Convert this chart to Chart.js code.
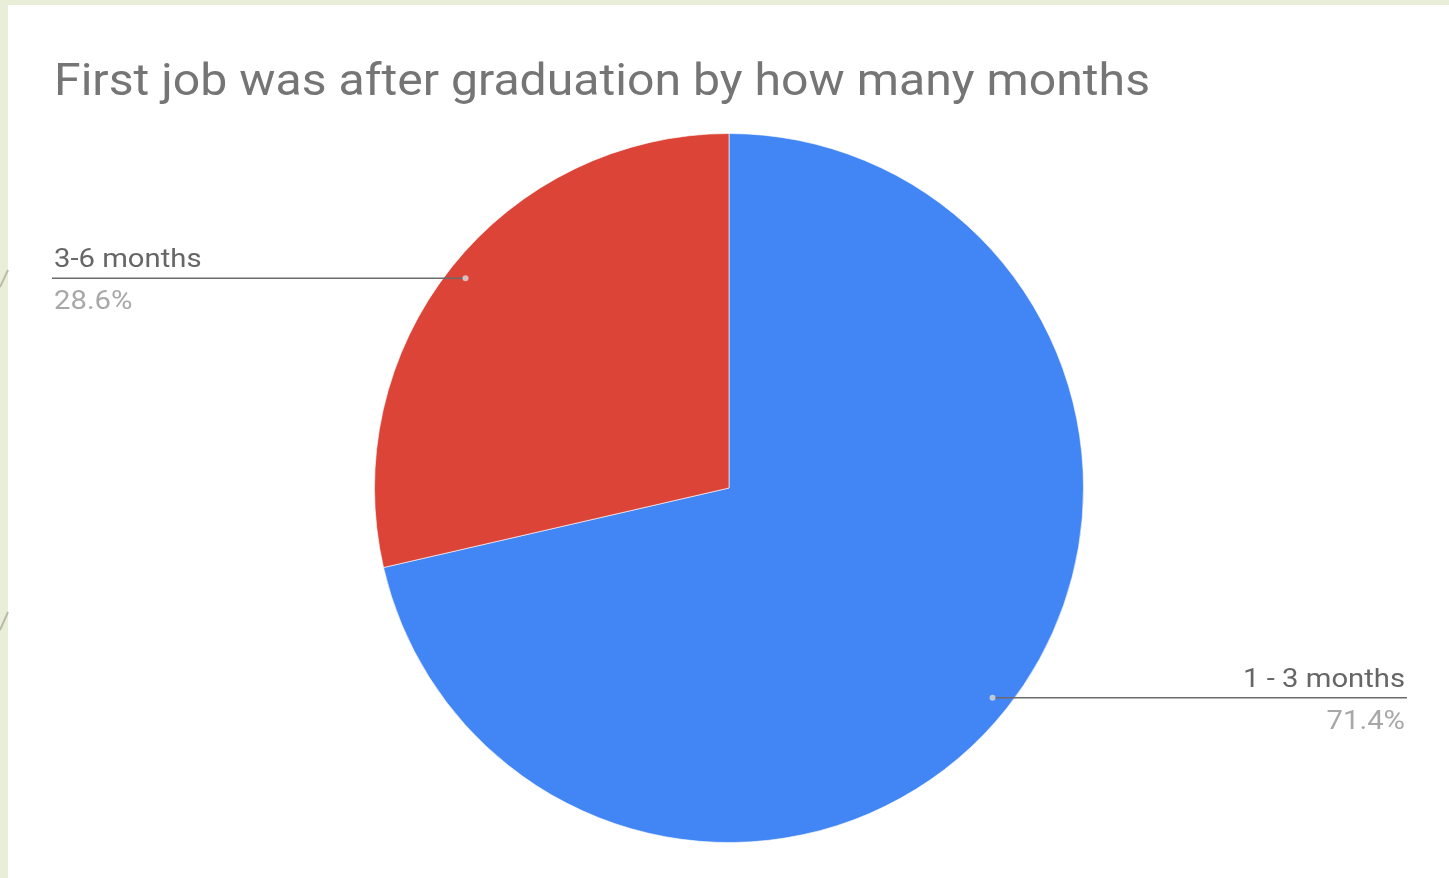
<!DOCTYPE html>
<html>
<head>
<meta charset="utf-8">
<script src="https://cdn.jsdelivr.net/npm/chart.js@4.4.0/dist/chart.umd.min.js"></script>
<style>
    html, body { margin: 0; padding: 0; background: #e9eed9; overflow: hidden; }
    #wrap { position: absolute; left: 0; top: 0; width: 1449px; height: 878px; }
</style>
</head>
<body>
<div id="wrap"><canvas id="pieChart" width="1449" height="878"></canvas></div>
<script>
// --- Data ---
const titleText = 'First job was after graduation by how many months';
const categories = ['1 - 3 months', '3-6 months'];
const shares = [71.4, 28.6];
const sliceColors = ['#4285f4', '#db4437'];

// text drawn a little wider than the font, like the screenshot
function wideText(ctx, text, x, y, stretch) {
    ctx.save();
    ctx.translate(x, y);
    ctx.scale(stretch, 1);
    ctx.fillText(text, 0, 0);
    ctx.restore();
}

// page background + white card + slide decoration
const backdrop = {
    id: 'backdrop',
    beforeDraw(chart) {
        const ctx = chart.ctx;
        ctx.save();
        ctx.fillStyle = '#e9eed9';
        ctx.fillRect(0, 0, chart.width, chart.height);
        ctx.fillStyle = '#ffffff';
        ctx.fillRect(8, 5, chart.width - 8, chart.height - 5);
        ctx.strokeStyle = '#b9bca8';
        ctx.lineWidth = 2;
        ctx.beginPath();
        ctx.moveTo(0, 287); ctx.lineTo(8, 270);
        ctx.moveTo(0, 630); ctx.lineTo(8, 612);
        ctx.stroke();
        ctx.fillStyle = '#757575';
        ctx.font = '45px Roboto';
        ctx.textBaseline = 'alphabetic';
        const w = ctx.measureText(titleText).width;
        wideText(ctx, titleText, 54, 95, 1096 / w);
        ctx.restore();
    }
};

// Google-sheets style leader labels
const leaderLabels = {
    id: 'leaderLabels',
    afterDatasetsDraw(chart) {
        const ctx = chart.ctx;
        const meta = chart.getDatasetMeta(0);
        ctx.save();
        meta.data.forEach((arc, i) => {
            const mid = (arc.startAngle + arc.endAngle) / 2;
            const r = arc.outerRadius * 0.95;
            const px = arc.x + Math.cos(mid) * r;
            const py = arc.y + Math.sin(mid) * r;
            const right = Math.cos(mid) > 0;
            const endX = right ? 1407 : 52;

            ctx.strokeStyle = '#6b6b6b';
            ctx.lineWidth = 1.5;
            ctx.beginPath();
            ctx.moveTo(px, py);
            ctx.lineTo(endX, py);
            ctx.stroke();

            ctx.fillStyle = 'rgba(220,220,220,0.8)';
            ctx.beginPath();
            ctx.arc(px, py, 3, 0, Math.PI * 2);
            ctx.fill();

            ctx.font = '25px Roboto';
            const stretch = 1.17;
            const name = categories[i];
            const pct = shares[i].toFixed(1) + '%';
            const nw = ctx.measureText(name).width * stretch;
            const pw = ctx.measureText(pct).width * stretch;
            ctx.fillStyle = '#666666';
            wideText(ctx, name, right ? 1405 - nw : 54, py - 11, stretch);
            ctx.fillStyle = '#a8a8a8';
            wideText(ctx, pct, right ? 1405 - pw : 54, py + 31, stretch);
        });
        ctx.restore();
    }
};

new Chart(document.getElementById('pieChart'), {
    type: 'pie',
    data: {
        labels: categories,
        datasets: [{
            data: shares,
            backgroundColor: sliceColors,
            borderColor: 'rgba(255,255,255,0.6)',
            borderWidth: 1
        }]
    },
    options: {
        responsive: false,
        animation: false,
        layout: { padding: { top: 133, bottom: 35, left: 374, right: 365 } },
        plugins: {
            legend: { display: false },
            tooltip: { enabled: false }
        }
    },
    plugins: [backdrop, leaderLabels]
});
</script>
</body>
</html>
